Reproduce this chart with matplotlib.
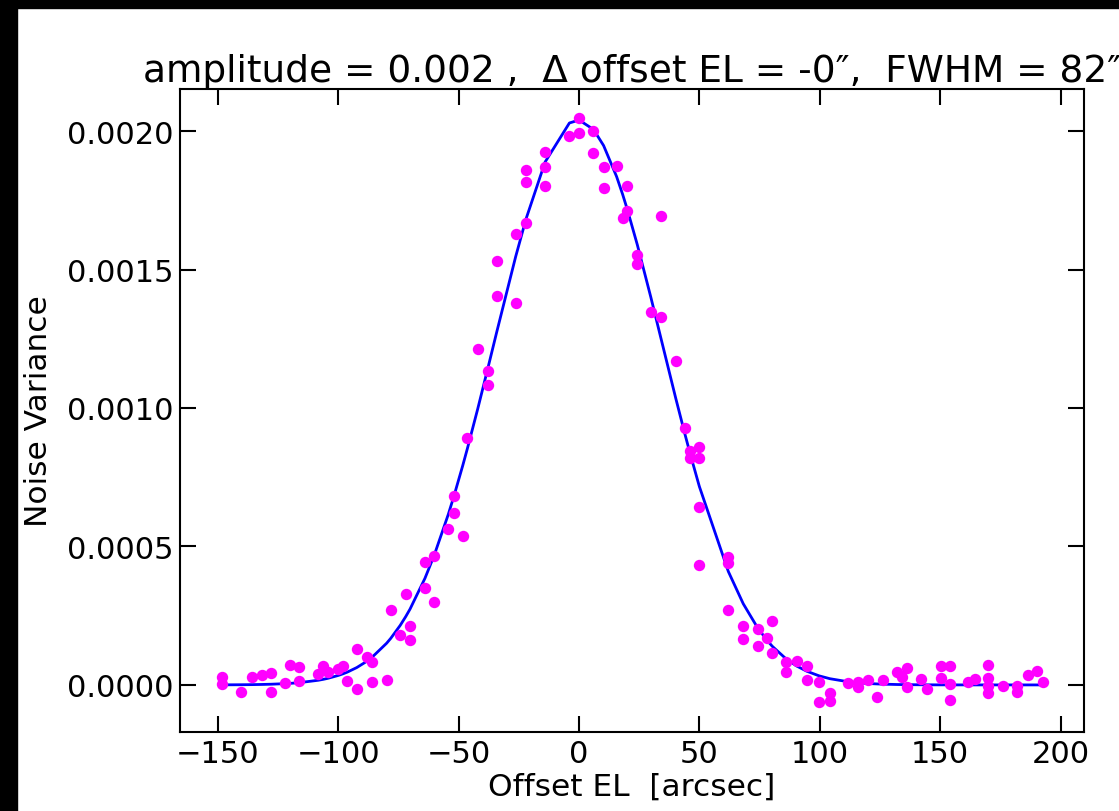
import numpy as np
import matplotlib
matplotlib.use('Agg')
import matplotlib.pyplot as plt
from matplotlib.patches import Rectangle

# measured points, offset EL [arcsec]
offset_el = [-148.4, -148.4, -140.5, -136.0, -131.8, -128.0, -128.0, -122.0, -120.0,
             -116.3, -116.3, -108.3, -106.2, -104.4, -100.0, -97.9, -96.2, -92.3,
             -92.3, -88.2, -86.1, -86.1, -79.9, -74.3, -70.2, -70.2, -78.2, -72.0,
             -64.0, -60.2, -64.0, -60.2, -54.3, -51.9, -51.9, -48.3, -46.4, -42.1,
             -37.7, -37.7, -34.2, -34.2, -26.3, -26.3, -22.0, -22.0, -22.0, -14.1,
             -14.1, -14.1, -4.0, 0.0, 0.0, 6.0, 6.0, 10.2, 10.2, 15.6, 20.1, 20.1,
             18.1, 34.1, 24.2, 24.2, 29.8, 34.1, 40.2, 44.0, 46.1, 46.1, 50.0,
             50.0, 49.8, 49.8, 62.0, 62.0, 62.0, 68.2, 68.2, 74.2, 74.2, 80.3,
             78.2, 80.3, 86.0, 86.0, 90.4, 94.6, 94.6, 99.7, 99.7, 104.2, 104.2,
             111.8, 116.0, 116.0, 119.9, 123.9, 126.1, 131.9, 134.0, 136.3, 136.3,
             141.9, 144.4, 150.2, 150.2, 154.1, 154.1, 154.1, 161.7, 164.5, 169.7,
             169.7, 169.7, 169.7, 176.2, 182.0, 182.0, 186.6, 190.1, 192.6]

# noise variance of each point
noise_var = [0.000028, 0.000004, -0.000026, 0.000028, 0.000037, 0.000042, -0.000024,
             0.000006, 0.000073, 0.000064, 0.000013, 0.000040, 0.000067, 0.000046,
             0.000058, 0.000070, 0.000013, 0.000130, -0.000014, 0.000100, 0.000084,
             0.000012, 0.000016, 0.000180, 0.000214, 0.000161, 0.000272, 0.000329,
             0.000351, 0.000301, 0.000443, 0.000467, 0.000563, 0.000620, 0.000681,
             0.000537, 0.000890, 0.001213, 0.001135, 0.001083, 0.001532, 0.001405,
             0.001379, 0.001628, 0.001667, 0.001859, 0.001817, 0.001923, 0.001869,
             0.001800, 0.001981, 0.002046, 0.001993, 0.002001, 0.001919, 0.001869,
             0.001793, 0.001875, 0.001800, 0.001712, 0.001686, 0.001694, 0.001553,
             0.001520, 0.001348, 0.001327, 0.001171, 0.000927, 0.000846, 0.000820,
             0.000858, 0.000820, 0.000641, 0.000434, 0.000461, 0.000440, 0.000272,
             0.000214, 0.000166, 0.000202, 0.000142, 0.000232, 0.000169, 0.000116,
             0.000082, 0.000048, 0.000088, 0.000068, 0.000016, 0.000010, -0.000060,
             -0.000029, -0.000057, 0.000006, 0.000010, -0.000008, 0.000018, -0.000044,
             0.000018, 0.000046, 0.000028, 0.000061, -0.000008, 0.000022, -0.000014,
             0.000070, 0.000025, 0.000070, 0.000004, -0.000054, 0.000010, 0.000022,
             0.000073, 0.000025, -0.000005, -0.000029, -0.000005, -0.000003,
             -0.000024, 0.000036, 0.000050, 0.000010]

# gaussian fit parameters (from the title)
fit_amp = 0.00204
fit_center = -0.4
fit_fwhm = 82.0

x = np.array(offset_el)
y = np.array(noise_var)
xs = np.unique(x)
sigma = fit_fwhm / (2.0 * np.sqrt(2.0 * np.log(2.0)))
fit = fit_amp * np.exp(-(xs - fit_center) ** 2 / (2.0 * sigma ** 2))

fs = 22
fig = plt.figure(figsize=(11.19, 8.12), dpi=100)
# black screenshot borders
fig.patches.append(Rectangle((0, 0), 17 / 1119, 1, transform=fig.transFigure,
                             color='black', zorder=-1))
fig.patches.append(Rectangle((0, 1 - 9 / 812), 1, 9 / 812, transform=fig.transFigure,
                             color='black', zorder=-1))

ax = fig.add_axes([0.1609, 0.0973, 0.8078, 0.7919])
ax.plot(xs, fit, color='#0000ff', lw=2.0, zorder=2)
ax.plot(x, y, 'o', color='#ff00ff', ms=8.2, mew=0, zorder=3)

ax.set_xlim(-165.7, 209.7)
ax.set_ylim(-0.000170, 0.002152)
ax.set_xticks([-150, -100, -50, 0, 50, 100, 150, 200])
ax.set_yticks([0.0, 0.0005, 0.0010, 0.0015, 0.0020])
ax.yaxis.set_major_formatter(plt.FormatStrFormatter('%.4f'))
ax.tick_params(direction='in', length=11.5, width=1.5, top=True, right=True,
               labelsize=fs)
ax.tick_params(axis='x', pad=5)
ax.tick_params(axis='y', pad=5)
for s in ax.spines.values():
    s.set_linewidth(1.5)

ax.set_xlabel('Offset EL  [arcsec]', fontsize=22.5, labelpad=3)
ax.set_ylabel('Noise Variance', fontsize=22.5, labelpad=10)
ax.set_title('amplitude = 0.002 ,  \u0394 offset EL = -0\u2033,  FWHM = 82\u2033',
             fontsize=27, pad=6)

fig.savefig('out.png', dpi=100)
